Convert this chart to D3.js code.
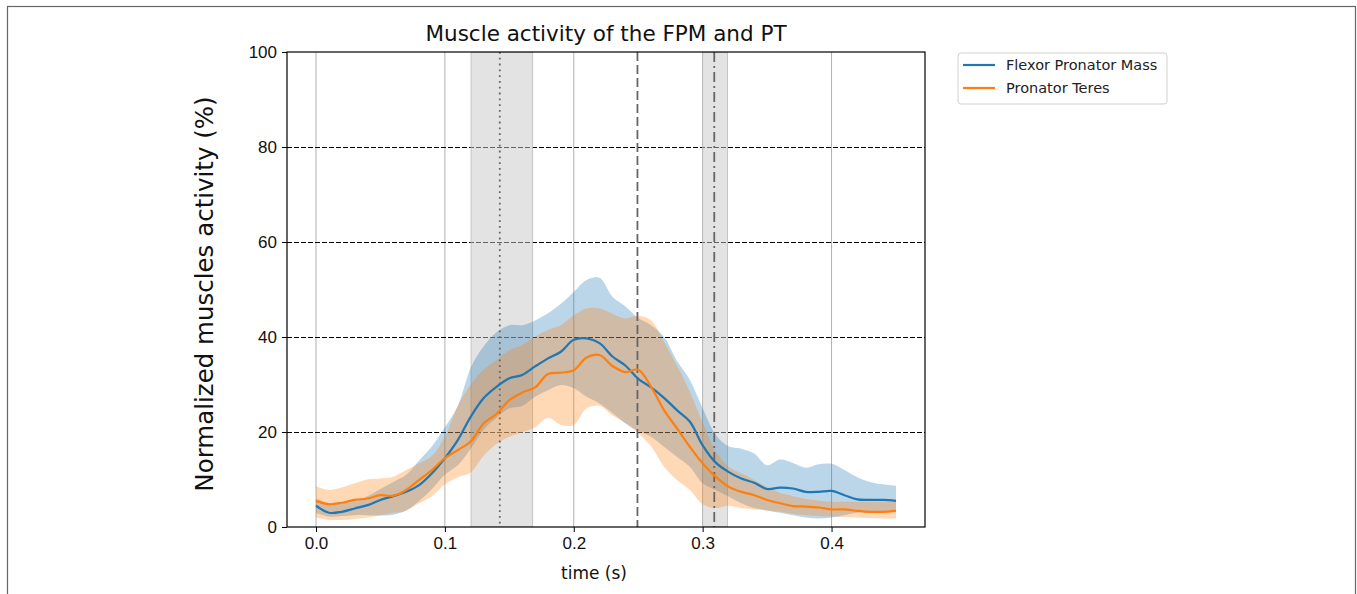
<!DOCTYPE html>
<html>
<head>
<meta charset="utf-8">
<script src="https://cdn.jsdelivr.net/npm/d3@7"></script>
<style>
  html, body { margin: 0; padding: 0; background: #fff; }
  svg { display: block; font-family: "DejaVu Sans", sans-serif; }
</style>
</head>
<body>
<div id="chart"></div>
<script>
// time samples (s)
const time = [0.00, 0.01, 0.02, 0.03, 0.04, 0.05, 0.06, 0.07, 0.08, 0.09,
  0.10, 0.11, 0.12, 0.13, 0.14, 0.15, 0.16, 0.17, 0.18, 0.19,
  0.20, 0.21, 0.22, 0.23, 0.24, 0.25, 0.26, 0.27, 0.28, 0.29,
  0.30, 0.31, 0.32, 0.33, 0.34, 0.35, 0.36, 0.37, 0.38, 0.39,
  0.40, 0.41, 0.42, 0.43, 0.44, 0.45];

// Flexor Pronator Mass: mean and band
const fpmMean = [4.5, 3.0, 3.2, 3.9, 4.6, 5.7, 6.5, 7.4, 8.8, 11.3,
  14.5, 18.3, 23.2, 27.1, 29.5, 31.3, 32.0, 33.8, 35.5, 36.9,
  39.4, 39.7, 38.7, 35.9, 34.0, 31.2, 29.4, 27.2, 24.6, 22.2,
  17.2, 13.6, 11.6, 10.2, 9.3, 8.0, 8.3, 8.1, 7.4, 7.4,
  7.6, 6.7, 5.8, 5.7, 5.7, 5.5];
const fpmUpper = [6.0, 5.0, 5.0, 5.5, 6.5, 8.0, 9.5, 11.0, 14.0, 17.0,
  21.0, 25.5, 33.5, 38.0, 41.0, 42.5, 42.5, 43.5, 45.0, 47.0,
  49.5, 52.0, 52.5, 48.5, 46.5, 44.0, 42.5, 40.0, 35.0, 31.0,
  25.0, 19.5, 17.0, 16.5, 15.5, 13.0, 14.2, 13.5, 12.5, 13.2,
  13.3, 12.0, 10.5, 9.5, 9.0, 8.7];
const fpmLower = [3.0, 2.2, 2.3, 2.5, 2.5, 2.4, 2.6, 3.5, 5.5, 8.0,
  11.0, 13.0, 16.5, 20.5, 23.0, 25.0, 25.5, 27.4, 28.8, 29.9,
  29.2, 27.4, 26.0, 24.0, 21.8, 20.2, 19.0, 16.9, 14.8, 12.7,
  9.2, 7.8, 6.4, 5.0, 4.0, 3.5, 3.0, 2.5, 2.0, 1.8,
  2.0, 2.5, 3.0, 3.0, 3.2, 3.3];

// Pronator Teres: mean and band
const ptMean = [5.5, 4.8, 5.1, 5.7, 6.0, 6.7, 6.6, 7.8, 9.9, 12.0,
  14.5, 16.2, 18.0, 21.8, 23.8, 26.7, 28.3, 29.4, 32.2, 32.5,
  33.0, 35.7, 36.2, 33.9, 32.6, 33.1, 29.5, 24.6, 20.8, 16.9,
  13.4, 10.6, 8.5, 7.4, 6.7, 5.7, 5.0, 4.4, 4.3, 4.1,
  3.7, 3.7, 3.4, 3.2, 3.2, 3.4];
const ptUpper = [8.6, 7.8, 8.3, 9.2, 10.0, 10.2, 10.6, 12.0, 13.4, 15.0,
  19.0, 25.5, 30.0, 33.1, 35.1, 37.2, 38.3, 40.1, 41.5, 42.5,
  44.6, 46.0, 46.0, 44.9, 43.9, 44.5, 43.5, 39.0, 34.0, 28.5,
  22.0, 16.0, 12.7, 11.3, 9.9, 8.4, 7.2, 6.5, 5.9, 5.6,
  5.3, 5.3, 5.3, 5.3, 5.3, 5.3];
const ptLower = [2.0, 1.5, 1.5, 1.7, 2.0, 2.5, 3.0, 3.5, 5.0, 6.5,
  9.0, 10.5, 11.5, 15.0, 17.5, 19.0, 20.0, 21.0, 23.0, 21.5,
  21.5, 25.0, 25.5, 23.5, 22.0, 19.7, 17.0, 12.7, 9.9, 7.8,
  4.8, 4.0, 4.5, 4.0, 3.7, 3.5, 3.2, 2.8, 2.5, 2.3,
  2.2, 2.1, 2.0, 1.9, 1.8, 1.8];

// event markers
const spans = [[0.1203, 0.1681], [0.2998, 0.3192]];
const markers = [
  { t: 0.1426, dash: "1.8,4" },
  { t: 0.2494, dash: "9,4" },
  { t: 0.3090, dash: "10,4,2,4" }
];

const xTicks = [0.0, 0.1, 0.2, 0.3, 0.4];
const yTicks = [0, 20, 40, 60, 80, 100];
const yGrid = [20, 40, 60, 80];

const seriesNames = ["Flexor Pronator Mass", "Pronator Teres"];
const colors = ["#1f77b4", "#ff7f0e"];

const W = 1357, H = 594;
const margin = { top: 52, right: 432, bottom: 67, left: 287 };
const width = W - margin.left - margin.right;
const height = H - margin.top - margin.bottom;

const svg = d3.select("#chart").append("svg")
  .attr("width", W)
  .attr("height", H);

// outer frame
svg.append("rect")
  .attr("x", 7.5).attr("y", 6.5)
  .attr("width", 1348).attr("height", 600)
  .attr("fill", "none")
  .attr("stroke", "#666")
  .attr("stroke-width", 1.2);

const g = svg.append("g")
  .attr("transform", `translate(${margin.left},${margin.top})`);

const x = d3.scaleLinear().domain([-0.0225, 0.4725]).range([0, width]);
const y = d3.scaleLinear().domain([0, 100]).range([height, 0]);

const defs = svg.append("defs");
defs.append("clipPath").attr("id", "plotclip")
  .append("rect").attr("width", width).attr("height", height);

const plot = g.append("g").attr("clip-path", "url(#plotclip)");

// vertical grid
plot.selectAll(".vgrid").data(xTicks).join("line")
  .attr("x1", d => x(d)).attr("x2", d => x(d))
  .attr("y1", 0).attr("y2", height)
  .attr("stroke", "#b0b0b0").attr("stroke-width", 1);

// horizontal dashed grid
plot.selectAll(".hgrid").data(yGrid).join("line")
  .attr("x1", 0).attr("x2", width)
  .attr("y1", d => y(d) + 0.5).attr("y2", d => y(d) + 0.5)
  .attr("stroke", "#000").attr("stroke-width", 1.3)
  .attr("shape-rendering", "crispEdges")
  .attr("stroke-dasharray", "4.5,2.5");

// shaded spans
plot.selectAll(".span").data(spans).join("rect")
  .attr("x", d => x(d[0]))
  .attr("width", d => x(d[1]) - x(d[0]))
  .attr("y", 0).attr("height", height)
  .attr("fill", "#c8c8c8").attr("fill-opacity", 0.5)
  .attr("stroke", "#bbb").attr("stroke-width", 0.8);

const rows = time.map((t, i) => ({
  t: t,
  fm: fpmMean[i], fu: fpmUpper[i], fl: fpmLower[i],
  pm: ptMean[i], pu: ptUpper[i], pl: ptLower[i]
}));

const curve = d3.curveCatmullRom.alpha(0.5);

const bands = [["fl", "fu"], ["pl", "pu"]];
bands.forEach(function(b, k) {
  plot.append("path")
    .datum(rows)
    .attr("fill", colors[k])
    .attr("fill-opacity", 0.3)
    .attr("d", d3.area().curve(curve)
      .x(d => x(d.t))
      .y0(d => y(d[b[0]]))
      .y1(d => y(d[b[1]])));
});

// event lines
plot.selectAll(".marker").data(markers).join("line")
  .attr("x1", d => x(d.t)).attr("x2", d => x(d.t))
  .attr("y1", 0).attr("y2", height)
  .attr("stroke", "#666").attr("stroke-width", 1.8)
  .attr("stroke-dasharray", d => d.dash);

// mean lines
["fm", "pm"].forEach(function(key, k) {
  plot.append("path")
    .datum(rows)
    .attr("fill", "none")
    .attr("stroke", colors[k])
    .attr("stroke-width", 2.2)
    .attr("d", d3.line().curve(curve)
      .x(d => x(d.t))
      .y(d => y(d[key])));
});

// axes
const xAxis = g.append("g")
  .attr("transform", `translate(0,${height})`)
  .call(d3.axisBottom(x).tickValues(xTicks).tickFormat(d3.format(".1f")).tickSizeOuter(0).tickSize(5).tickPadding(5));
const yAxis = g.append("g")
  .call(d3.axisLeft(y).tickValues(yTicks).tickSizeOuter(0).tickSize(5).tickPadding(5));
[xAxis, yAxis].forEach(function(a) {
  a.select(".domain").remove();
  a.selectAll("line").attr("stroke", "#000").attr("stroke-width", 1);
  a.selectAll("text").attr("fill", "#111").style("font-size", "17px");
});

// frame
g.append("rect")
  .attr("width", width).attr("height", height)
  .attr("fill", "none").attr("stroke", "#000").attr("stroke-width", 1.2);

// title and labels
svg.append("text")
  .attr("x", margin.left + width / 2).attr("y", 41)
  .attr("text-anchor", "middle")
  .attr("fill", "#111")
  .style("font-size", "21.5px")
  .text("Muscle activity of the FPM and PT");

svg.append("text")
  .attr("x", 594).attr("y", 579)
  .attr("text-anchor", "middle")
  .attr("fill", "#111")
  .style("font-size", "17px")
  .text("time (s)");

svg.append("text")
  .attr("transform", `translate(213,294) rotate(-90)`)
  .attr("text-anchor", "middle")
  .attr("fill", "#111")
  .style("font-size", "24.5px")
  .text("Normalized muscles activity (%)");

// legend
const legend = svg.append("g").attr("transform", "translate(958,53)");
legend.append("rect")
  .attr("width", 209).attr("height", 51)
  .attr("rx", 3)
  .attr("fill", "#fff")
  .attr("stroke", "#d0d0d0");
seriesNames.forEach(function(name, i) {
  legend.append("line")
    .attr("x1", 5).attr("x2", 37)
    .attr("y1", 12 + i * 23).attr("y2", 12 + i * 23)
    .attr("stroke", colors[i]).attr("stroke-width", 2.2);
  legend.append("text")
    .attr("x", 48).attr("y", 17 + i * 23)
    .style("font-size", "14.5px")
    .attr("fill", "#222")
    .text(name);
});
</script>
</body>
</html>
